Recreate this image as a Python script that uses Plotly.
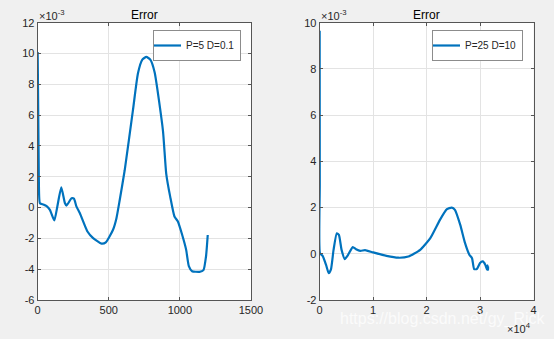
import plotly.graph_objects as go

# Left panel: P=5 D=0.1 (y in units of 1e-3)
x_left = [0, 8, 16, 40, 63, 86, 117, 138, 166, 192, 203, 238, 255, 273, 297, 350, 390, 449, 479,
          530, 554, 577, 612, 670, 705, 736, 764, 792, 822, 881, 904, 932, 962, 986, 1016, 1044,
          1063, 1086, 1138, 1166, 1184, 1196]
y_left = [10.1, 2.0, 0.28, 0.2, 0.1, -0.15, -0.84, 0.06, 1.31, 0.28, 0.13, 0.6, 0.58, 0.06, -0.37,
          -1.55, -1.98, -2.34, -2.26, -1.44, -0.69, 0.49, 2.42, 6.32, 8.7, 9.6, 9.78, 9.6, 8.8,
          5.0, 2.21, 0.71, -0.58, -0.9, -1.76, -2.73, -3.8, -4.13, -4.17, -4.06, -3.16, -1.78]

# Right panel: P=25 D=10 (x in units of 1e4, y in units of 1e-3)
x_right = [0, 0.002, 0.006, 0.056, 0.12, 0.17, 0.21, 0.26, 0.32, 0.36, 0.41, 0.47, 0.52, 0.62,
           0.68, 0.76, 0.85, 1.0, 1.25, 1.47, 1.66, 1.88, 2.07, 2.25, 2.38, 2.47, 2.53, 2.63,
           2.72, 2.80, 2.85, 2.89, 2.94, 3.0, 3.05, 3.10, 3.13, 3.14, 3.15, 3.15]
y_right = [9.65, 3.0, 0.03, -0.09, -0.48, -0.84, -0.69, 0.17, 0.89, 0.82, 0.17, -0.23, -0.09,
           0.29, 0.2, 0.13, 0.16, 0.06, -0.09, -0.17, -0.12, 0.17, 0.68, 1.47, 1.93, 2.0, 1.9,
           1.25, 0.46, -0.04, -0.19, -0.66, -0.66, -0.4, -0.33, -0.48, -0.69, -0.5, -0.69, -0.55]

left_xticks = [0, 500, 1000, 1500]
left_yticks = [-6, -4, -2, 0, 2, 4, 6, 8, 10, 12]
right_xticks = [0, 1, 2, 3, 4]
right_yticks = [-2, 0, 2, 4, 6, 8, 10]

LINE = "#0072BD"
AXC = "#555555"
TXT = "#262626"
FONT = "Liberation Sans, Arial, sans-serif"

fig = go.Figure()
fig.add_trace(go.Scatter(x=x_left, y=y_left, mode="lines", name="P=5 D=0.1",
                         line=dict(color=LINE, width=2.2, shape="spline", smoothing=0.5),
                         xaxis="x", yaxis="y", legend="legend"))
fig.add_trace(go.Scatter(x=x_right, y=y_right, mode="lines", name="P=25 D=10",
                         line=dict(color=LINE, width=2.2, shape="spline", smoothing=0.5),
                         xaxis="x2", yaxis="y2", legend="legend2"))

def ax(domain, rng, ticks, anchor):
    return dict(domain=domain, range=rng, tickvals=ticks, ticktext=[str(t) for t in ticks],
                anchor=anchor, automargin=False, showgrid=True, gridcolor="#e3e3e3", gridwidth=1,
                zeroline=False, showline=True, linecolor=AXC, linewidth=1, mirror="ticks",
                ticks="inside", ticklen=3, tickcolor=AXC, tickfont=dict(size=11, color=TXT, family=FONT))

legend_style = dict(yanchor="top", xanchor="right", bgcolor="white", bordercolor="#8c8c8c",
                    borderwidth=1, font=dict(size=10, color=TXT, family=FONT),
                    itemwidth=30, tracegroupgap=0, indentation=-8)

fig.update_layout(
    template="none",
    width=554, height=339,
    margin=dict(l=0, r=0, t=0, b=0, autoexpand=False),
    paper_bgcolor="#f0f0f0", plot_bgcolor="white",
    xaxis=ax([0.068, 0.453], [0, 1500], left_xticks, "y"),
    yaxis=ax([0.115, 0.933], [-6, 12], left_yticks, "x"),
    xaxis2=ax([0.577, 0.963], [0, 4], right_xticks, "y2"),
    yaxis2=ax([0.115, 0.933], [-2, 10], right_yticks, "x2"),
    legend=dict(x=241 / 554, y=1 - 30 / 339, **legend_style),
    legend2=dict(x=523 / 554, y=1 - 30 / 339, **legend_style),
    showlegend=True,
    font=dict(family=FONT, color=TXT),
)

for xc in (144 / 554, 426 / 554):
    fig.add_annotation(text="Error", xref="paper", yref="paper", x=xc, y=1 - 15 / 339,
                       showarrow=False, font=dict(size=12, color="black", family=FONT),
                       xanchor="center", yanchor="middle")

for xl in (37 / 554, 319 / 554):
    fig.add_annotation(text="×10<sup>-3</sup>", xref="paper", yref="paper", x=xl, y=1 - 15 / 339,
                       showarrow=False, xanchor="left", yanchor="middle",
                       font=dict(size=11, color=TXT, family=FONT))
fig.add_annotation(text="×10<sup>4</sup>", xref="paper", yref="paper", x=533 / 554, y=1 - 328 / 339,
                   showarrow=False, xanchor="right", yanchor="middle",
                   font=dict(size=11, color=TXT, family=FONT))
fig.add_annotation(text="https://blog.csdn.net/gy_Rick", xref="paper", yref="paper",
                   x=443 / 554, y=1 - 319 / 339, showarrow=False, xanchor="center", yanchor="middle",
                   font=dict(size=16, color="rgba(255,255,255,0.75)", family=FONT))

fig.write_html("out.html")
